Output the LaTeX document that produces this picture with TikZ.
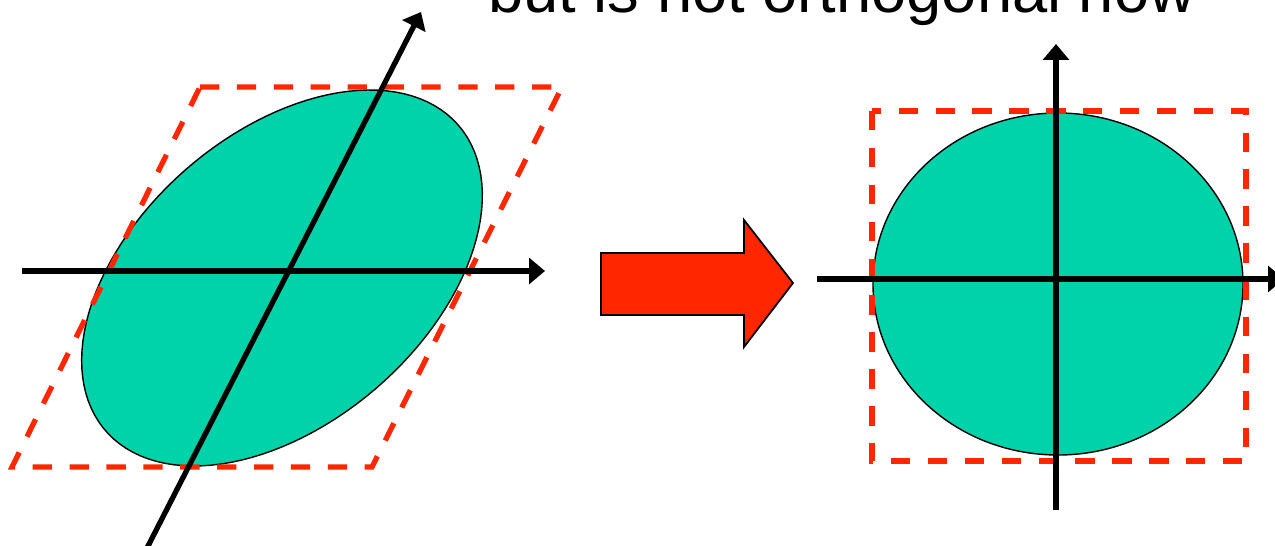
\documentclass[tikz,border=0pt]{standalone}
\usepackage{fontspec}
\setmainfont{Liberation Sans}
\usetikzlibrary{arrows.meta}
\definecolor{ellfill}{RGB}{0,210,170}
\definecolor{boxred}{RGB}{255,38,0}

\begin{document}
\begin{tikzpicture}[x=0.02cm,y=-0.02cm,>={Triangle[length=9pt,width=14.5pt]},
  axis/.style={->,line width=3pt},
  bound/.style={boxred,line width=3pt,dash pattern=on 11pt off 10pt},
  blob/.style={fill=ellfill,draw=black,line width=0.8pt}]
\useasboundingbox (0,0) rectangle (1275,545);
% title, cut at the top
\node[anchor=base west,inner sep=0pt,font=\fontsize{36}{43}\selectfont] (title) at (488,12) {but is not orthogonal now};
% left: sheared ellipse in a parallelogram
\draw[blob] plot[domain=0:360,samples=120] ({282+180*cos(\x)+88*sin(\x)},{278-188*sin(\x)}) -- cycle;
\draw[bound] (200,87) -- (562,87) -- (372,467) -- (12,467) -- cycle;
\coordinate (l-west) at (22,271);
\coordinate (l-east) at (545,271);
\coordinate (l-south) at (146,550);
\coordinate (l-north) at (421,12);
\draw[axis] (l-west) -- (l-east);
\draw[axis] (l-south) -- (l-north);
% block arrow
\draw[fill=boxred,line width=1pt] (601,253) -- (744,253) -- (744,220) -- (793,283)
  -- (744,347) -- (744,315) -- (601,315) -- cycle;
% right: circle in a square
\draw[blob] (1058,284) ellipse [x radius=185,y radius=171];
\draw[bound] (872,111) rectangle (1246,461);
\coordinate (r-west) at (817,279);
\coordinate (r-east) at (1284,279);
\coordinate (r-south) at (1056,510);
\coordinate (r-north) at (1056,44);
\draw[axis] (r-west) -- (r-east);
\draw[axis] (r-south) -- (r-north);
\end{tikzpicture}
\end{document}
